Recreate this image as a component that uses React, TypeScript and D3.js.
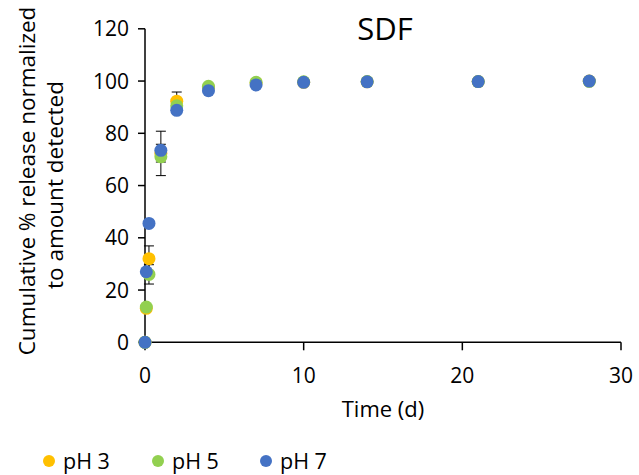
import React from "react";
import * as d3 from "d3";

const times = [0, 0.083, 0.25, 1, 2, 4, 7, 10, 14, 21, 28];
const ph3 = [0, 13, 32, 72.3, 92.3, 97.5, 99.3, 99.5, 99.7, 99.8, 100];
const ph3Err = [0, 1, 4.9, 8.5, 3.5, 0.5, 0.4, 0.3, 0.2, 0.2, 0.2];
const ph5 = [0, 13.5, 26, 71, 90.5, 98, 99.5, 99.7, 99.8, 99.8, 99.9];
const ph5Err = [0, 1, 3.7, 2, 1, 0.5, 0.4, 0.3, 0.2, 0.2, 0.2];
const ph7 = [0, 27, 45.5, 73.5, 88.8, 96.3, 98.5, 99.5, 99.7, 99.8, 100];
const ph7Err = [0, 1, 1, 2.3, 1, 0.5, 0.4, 0.3, 0.2, 0.2, 0.2];
const seriesNames = ["pH 3", "pH 5", "pH 7"];
const colors = ["#FFC000", "#92D050", "#4472C4"];
const xTicks = [0, 10, 20, 30];
const yTicks = [0, 20, 40, 60, 80, 100, 120];

const FONT = "'Open Sans', sans-serif";

export default function App() {
  const x = d3.scaleLinear().domain([0, 30]).range([145, 621]);
  const y = d3.scaleLinear().domain([0, 120]).range([342.3, 28.8]);
  const series = [
    { name: seriesNames[0], vals: ph3, err: ph3Err, color: colors[0] },
    { name: seriesNames[1], vals: ph5, err: ph5Err, color: colors[1] },
    { name: seriesNames[2], vals: ph7, err: ph7Err, color: colors[2] },
  ];
  const legendX = [49, 158, 266];
  return (
    <svg
      width={639}
      height={475}
      style={{ position: "absolute", left: 0, top: 0, background: "#fff" }}
      fontFamily={FONT}
    >
      <rect width={639} height={475} fill="#fff" />
      {/* axes */}
      <line x1={x(0)} x2={x(30)} y1={y(0)} y2={y(0)} stroke="#000" strokeWidth={1.5} />
      <line x1={x(0)} x2={x(0)} y1={y(0)} y2={y(120)} stroke="#000" strokeWidth={1.5} />
      {yTicks.map((t) => (
        <g key={"y" + t}>
          <line x1={x(0) - 7} x2={x(0)} y1={y(t)} y2={y(t)} stroke="#000" strokeWidth={1.5} />
          <text x={x(0) - 16} y={y(t)} dy="0.36em" textAnchor="end" fontSize={21} fill="#000">
            {t}
          </text>
        </g>
      ))}
      {xTicks.map((t) => (
        <g key={"x" + t}>
          <line x1={x(t)} x2={x(t)} y1={y(0)} y2={y(0) + 8} stroke="#000" strokeWidth={1.5} />
          <text x={x(t)} y={y(0) + 41} textAnchor="middle" fontSize={21} fill="#000">
            {t}
          </text>
        </g>
      ))}
      {/* error bars */}
      {series.map((s) =>
        times.map((t, i) => {
          const e = s.err[i];
          if (e <= 0) return null;
          const cx = x(t);
          return (
            <g key={s.name + "e" + i} stroke="#000" strokeWidth={1}>
              <line x1={cx} x2={cx} y1={y(s.vals[i] + e)} y2={y(s.vals[i] - e)} />
              <line x1={cx - 5} x2={cx + 5} y1={y(s.vals[i] + e)} y2={y(s.vals[i] + e)} />
              <line x1={cx - 5} x2={cx + 5} y1={y(s.vals[i] - e)} y2={y(s.vals[i] - e)} />
            </g>
          );
        })
      )}
      {/* markers */}
      {series.map((s) =>
        times.map((t, i) => (
          <circle key={s.name + "p" + i} cx={x(t)} cy={y(s.vals[i])} r={6.5} fill={s.color} />
        ))
      )}
      {/* title */}
      <text x={385} y={40} textAnchor="middle" fontSize={31} fill="#000">
        SDF
      </text>
      {/* axis titles */}
      <text
        transform={`translate(35, 181) rotate(-90)`}
        textAnchor="middle"
        fontSize={22.5}
        fill="#000"
      >
        Cumulative % release normalized
      </text>
      <text
        transform={`translate(63, 185) rotate(-90)`}
        textAnchor="middle"
        fontSize={22.5}
        fill="#000"
      >
        to amount detected
      </text>
      <text x={383} y={417} textAnchor="middle" fontSize={22} fill="#000">
        Time (d)
      </text>
      {/* legend */}
      {series.map((s, i) => (
        <g key={"lg" + i}>
          <circle cx={legendX[i]} cy={461} r={6} fill={s.color} />
          <text x={legendX[i] + 14} y={461} dy="0.35em" fontSize={21.5} fill="#000">
            {s.name}
          </text>
        </g>
      ))}
    </svg>
  );
}
